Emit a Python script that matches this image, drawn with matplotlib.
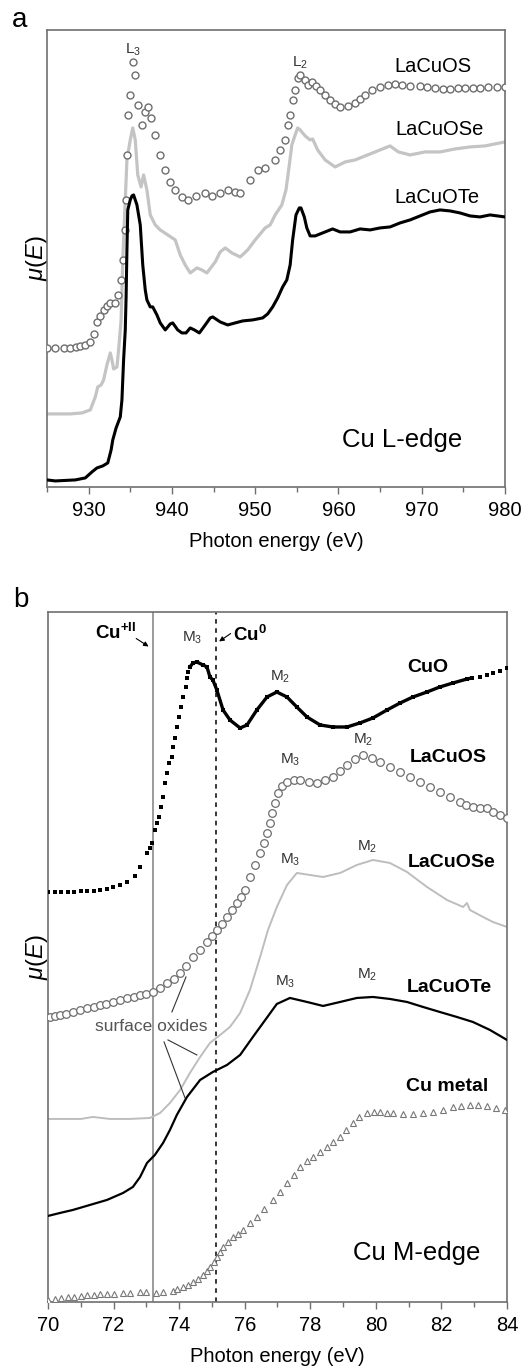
import matplotlib
matplotlib.use('Agg')
import matplotlib.pyplot as plt
import numpy as np

plt.rcParams['font.family'] = ['Liberation Sans', 'DejaVu Sans']
plt.rcParams['mathtext.fontset'] = 'custom'
plt.rcParams['mathtext.rm'] = 'Liberation Sans'
plt.rcParams['mathtext.it'] = 'Liberation Sans:italic'
plt.rcParams['mathtext.bf'] = 'Liberation Sans:bold'

# ---- panel a : Cu L-edge, (photon energy eV, mu(E) arb. units) ----
a_lacuos = [(925.0, 139), (926.0, 139), (927.0, 139), (927.8, 139), (928.5, 140), (929.0, 141),
            (929.6, 142), (930.2, 145), (930.6, 153), (931.0, 165), (931.4, 171), (931.8, 177),
            (932.2, 181), (932.6, 184), (933.2, 184), (933.5, 192), (933.9, 207), (934.1, 227),
            (934.4, 257), (934.5, 287), (934.6, 332), (934.7, 372), (935.0, 392), (935.3, 425),
            (935.6, 412), (935.9, 382), (936.4, 362), (936.8, 375), (937.1, 380), (937.5, 369),
            (938.0, 352), (938.6, 332), (939.2, 317), (939.8, 305), (940.4, 297), (941.2, 290),
            (941.9, 287), (942.9, 291), (944.0, 294), (944.8, 291), (945.8, 294), (946.7, 297),
            (947.6, 295), (948.2, 294), (949.4, 307), (950.3, 317), (951.2, 319), (952.4, 327),
            (953.0, 337), (953.6, 347), (953.9, 362), (954.2, 372), (954.5, 387), (954.8, 397),
            (955.1, 409), (955.4, 412), (956.0, 407), (956.3, 402), (956.8, 405), (957.3, 401),
            (957.8, 397), (958.4, 392), (959.0, 387), (959.6, 383), (960.2, 380), (961.1, 381),
            (962.0, 384), (962.6, 388), (963.2, 392), (964.0, 397), (965.0, 400), (966.0, 402),
            (966.8, 403), (967.6, 402), (968.6, 401), (969.8, 401), (970.6, 400), (971.6, 399),
            (972.5, 398), (973.4, 398), (974.3, 399), (975.2, 399), (976.1, 399), (977.0, 399),
            (978.0, 400), (979.0, 400), (980.0, 400)]

a_lacuose = [(925.0, 73), (927.8, 73), (929.2, 74), (930.2, 77), (930.8, 90), (931.1, 100),
             (931.5, 102), (931.8, 107), (932.2, 122), (932.6, 134), (932.8, 127), (933.0, 118),
             (933.4, 120), (933.6, 137), (933.9, 167), (934.1, 227), (934.4, 287), (934.6, 327),
             (935.0, 347), (935.3, 359), (935.6, 347), (935.9, 312), (936.3, 300), (936.6, 312),
             (937.0, 297), (937.4, 272), (938.0, 262), (938.6, 257), (939.5, 252), (940.4, 247),
             (941.0, 232), (941.6, 222), (942.2, 214), (943.0, 219), (943.6, 217), (944.2, 214),
             (945.2, 225), (945.8, 235), (946.4, 239), (947.2, 234), (948.2, 230), (949.1, 237),
             (950.0, 247), (951.2, 259), (951.8, 262), (952.4, 272), (953.2, 282), (953.7, 297),
             (954.1, 322), (954.4, 342), (954.8, 352), (955.1, 359), (955.4, 357), (956.0, 351),
             (956.6, 347), (956.9, 348), (957.5, 337), (958.4, 327), (959.6, 320), (960.8, 325),
             (962.0, 327), (963.8, 333), (965.6, 339), (966.2, 341), (967.2, 335), (968.6, 332),
             (970.4, 335), (972.2, 335), (974.0, 338), (975.8, 340), (977.6, 341), (978.8, 343),
             (980.0, 345)]

a_lacuote = [(925.0, 7), (926.0, 6), (928.4, 7), (929.6, 9), (930.4, 15), (931.0, 19),
             (931.7, 21), (932.3, 24), (932.7, 37), (932.9, 47), (933.3, 59), (933.8, 70),
             (934.0, 87), (934.2, 127), (934.4, 157), (934.5, 190), (934.6, 237), (934.7, 277),
             (935.0, 287), (935.2, 291), (935.4, 292), (935.8, 282), (936.2, 262), (936.5, 222),
             (936.8, 197), (937.0, 187), (937.4, 180), (937.7, 180), (938.2, 172), (938.6, 164),
             (939.2, 157), (939.8, 163), (940.1, 164), (940.7, 157), (941.2, 154), (941.7, 154),
             (942.2, 159), (942.7, 157), (943.3, 154), (944.0, 162), (944.6, 169), (944.9, 170),
             (945.8, 165), (946.7, 162), (947.6, 164), (948.5, 166), (949.7, 167), (950.9, 169),
             (951.5, 173), (952.1, 180), (952.7, 189), (953.3, 200), (953.8, 207), (954.2, 222),
             (954.5, 247), (954.9, 272), (955.3, 279), (955.5, 279), (955.9, 270), (956.2, 259),
             (956.6, 251), (957.2, 251), (958.4, 255), (959.3, 258), (960.2, 255), (961.4, 255),
             (962.6, 258), (963.8, 257), (965.0, 259), (966.2, 260), (967.4, 264), (968.6, 267),
             (969.8, 271), (971.0, 275), (972.2, 277), (973.4, 276), (974.6, 274), (975.8, 271),
             (977.0, 270), (978.2, 272), (980.0, 270)]

# ---- panel b : Cu M-edge ----
b_cuo = [(70.0, 410), (70.2, 410), (70.4, 410), (70.6, 410), (70.8, 410), (71.0, 411),
         (71.2, 411), (71.4, 411), (71.6, 412), (71.80, 413), (71.98, 415), (72.20, 417),
         (72.41, 420), (72.65, 426), (72.81, 435), (73.02, 449), (73.11, 454), (73.17, 459),
         (73.26, 472), (73.32, 479), (73.39, 485), (73.45, 495), (73.51, 505), (73.57, 519),
         (73.63, 529), (73.69, 539), (73.78, 545), (73.81, 555), (73.87, 564), (73.93, 575),
         (74.00, 585), (74.06, 595), (74.12, 605), (74.21, 615), (74.24, 624), (74.27, 630),
         (74.33, 635), (74.42, 639), (74.54, 640), (74.73, 637), (74.85, 635), (74.94, 625),
         (75.03, 622), (75.15, 612), (75.34, 592), (75.55, 582), (75.86, 574), (76.07, 577),
         (76.37, 592), (76.68, 605), (76.98, 610), (77.29, 605), (77.59, 595), (77.90, 585),
         (78.30, 577), (78.69, 575), (79.12, 575), (79.51, 579), (79.91, 584), (80.34, 592),
         (80.74, 599), (81.13, 605), (81.56, 610), (81.95, 615), (82.35, 619), (82.78, 623),
         (82.93, 624), (83.17, 625), (83.39, 627), (83.57, 629), (83.78, 631), (84.0, 634)]
cuo_dense_range = (74.3, 82.95)

b_lacuos = [(70.06, 285), (70.22, 286), (70.37, 287), (70.56, 288), (70.76, 290), (70.98, 292),
            (71.19, 294), (71.39, 295), (71.59, 297), (71.78, 298), (71.98, 300), (72.2, 302),
            (72.41, 304), (72.61, 305), (72.81, 307), (73.0, 308), (73.20, 310), (73.42, 314),
            (73.63, 319), (73.83, 323), (74.03, 329), (74.22, 336), (74.42, 345), (74.64, 352),
            (74.85, 360), (75.0, 366), (75.15, 372), (75.3, 378), (75.46, 385), (75.6, 392),
            (75.76, 399), (75.9, 405), (76.01, 412), (76.16, 425), (76.3, 437), (76.47, 449),
            (76.58, 459), (76.68, 469), (76.76, 479), (76.83, 489), (76.92, 499), (77.01, 509),
            (77.15, 516), (77.29, 520), (77.49, 522), (77.69, 522), (77.95, 520), (78.20, 519),
            (78.45, 522), (78.69, 525), (78.9, 531), (79.12, 537), (79.37, 543), (79.61, 547),
            (79.87, 544), (80.13, 540), (80.43, 535), (80.73, 530), (81.04, 525), (81.35, 520),
            (81.65, 515), (81.95, 510), (82.26, 505), (82.56, 500), (82.76, 497), (82.96, 495),
            (83.17, 494), (83.39, 494), (83.58, 490), (83.78, 487), (84.0, 484)]

b_lacuose = [(70.0, 183), (70.67, 183), (71.0, 183), (71.37, 185), (71.89, 183), (72.5, 183),
             (73.11, 184), (73.42, 189), (73.72, 199), (74.03, 212), (74.33, 229), (74.64, 245),
             (74.94, 259), (75.25, 267), (75.55, 275), (75.86, 289), (76.16, 312), (76.47, 345),
             (76.71, 372), (76.98, 395), (77.29, 417), (77.59, 429), (77.99, 427), (78.39, 425),
             (78.91, 429), (79.42, 437), (79.91, 442), (80.43, 439), (80.95, 430), (81.56, 415),
             (82.17, 402), (82.66, 395), (82.78, 399), (82.87, 392), (83.27, 385), (83.57, 380),
             (84.0, 375)]

b_lacuote = [(70.0, 86), (70.37, 89), (70.76, 92), (71.28, 97), (71.80, 102), (72.29, 109),
             (72.59, 115), (72.81, 125), (73.02, 139), (73.26, 147), (73.51, 159), (73.72, 172),
             (73.93, 187), (74.24, 205), (74.64, 222), (75.03, 230), (75.46, 237), (75.86, 247),
             (76.25, 265), (76.56, 279), (76.98, 298), (77.38, 304), (77.90, 300), (78.39, 296),
             (78.91, 300), (79.42, 304), (79.91, 305), (80.43, 303), (80.95, 300), (81.44, 295),
             (81.95, 290), (82.47, 285), (82.96, 280), (83.48, 272), (84.0, 262)]

b_cumetal = [(70.0, 2), (70.2, 3), (70.4, 4), (70.6, 5), (70.8, 5), (71.0, 6), (71.2, 7),
             (71.4, 7), (71.6, 8), (71.8, 8), (72.0, 8), (72.3, 9), (72.5, 9), (72.8, 10),
             (73.0, 10), (73.3, 9), (73.5, 10), (73.8, 11), (73.95, 13), (74.12, 15), (74.27, 17),
             (74.42, 20), (74.58, 23), (74.73, 27), (74.84, 31), (74.94, 35), (75.05, 40),
             (75.15, 45), (75.25, 50), (75.34, 55), (75.5, 60), (75.64, 65), (75.8, 68),
             (75.95, 72), (76.15, 79), (76.37, 85), (76.6, 93), (76.86, 102), (77.07, 110),
             (77.29, 119), (77.5, 127), (77.69, 135), (77.9, 141), (78.08, 145), (78.3, 150),
             (78.51, 155), (78.7, 160), (78.91, 165), (79.1, 172), (79.30, 179), (79.5, 185),
             (79.73, 189), (79.93, 190), (80.13, 190), (80.33, 189), (80.52, 189), (80.83, 188),
             (81.13, 188), (81.44, 189), (81.74, 190), (82.05, 192), (82.35, 195), (82.6, 196),
             (82.87, 197), (83.13, 197), (83.39, 196), (83.65, 194), (83.94, 192)]

GRAY_EDGE = '#6e6e6e'
SPINE = '#707070'


def style_axes(ax):
    for s in ax.spines.values():
        s.set_color(SPINE)
        s.set_linewidth(1.2)
    ax.set_yticks([])
    ax.tick_params(axis='x', which='major', direction='out', length=5, width=1,
                   color=SPINE, labelsize=14.5, pad=5)
    ax.tick_params(axis='x', which='minor', direction='out', length=3.5, width=1, color=SPINE)
    ax.set_xlabel('Photon energy (eV)', fontsize=14.5, labelpad=9)
    ax.set_ylabel(r'$\mu(E)$', fontsize=17, va='center')


fig = plt.figure(figsize=(5.25, 13.67), dpi=100)

# ---------------- panel a ----------------
ax1 = fig.add_axes([0.0895, 0.6438, 0.8724, 0.3343])
e, mu = np.array(a_lacuos).T
ax1.plot(e, mu, 'o', ms=5, mfc='white', mec=GRAY_EDGE, mew=1.0, zorder=3)
e, mu = np.array(a_lacuose).T
ax1.plot(e, mu, '-', color='#c4c4c4', lw=2.3, zorder=2)
e, mu = np.array(a_lacuote).T
ax1.plot(e, mu, '-', color='black', lw=2.2, zorder=4)

ax1.set_xlim(925, 980)
ax1.set_ylim(0, 457)
ax1.set_xticks(np.arange(930, 981, 10))
ax1.set_xticks(np.arange(925, 981, 5), minor=True)
style_axes(ax1)
ax1.yaxis.set_label_coords(-0.022, 0.5)

ax1.text(935.3, 437, r'L$_3$', fontsize=11, color='#333333', ha='center', va='center')
ax1.text(955.4, 424, r'L$_2$', fontsize=11, color='#333333', ha='center', va='center')
ax1.text(971.4, 420, 'LaCuOS', fontsize=14.5, ha='center', va='center')
ax1.text(972.2, 357, 'LaCuOSe', fontsize=14.5, ha='center', va='center')
ax1.text(971.8, 289, 'LaCuOTe', fontsize=14.5, ha='center', va='center')
ax1.text(967.6, 47, 'Cu L-edge', fontsize=18.5, ha='center', va='center')

# ---------------- panel b ----------------
ax2 = fig.add_axes([0.0914, 0.0476, 0.8743, 0.5047])

ax2.axvline(73.19, color='#808080', lw=1.1, zorder=1)
ax2.axvline(75.11, color='black', lw=1.1, ls=(0, (3, 3)), zorder=1)

e, mu = np.array(b_cuo).T
ax2.plot(e, mu, 's', ms=2.6, color='black', mew=0, zorder=4)
dense = (e >= cuo_dense_range[0]) & (e <= cuo_dense_range[1])
ax2.plot(e[dense], mu[dense], '-', color='black', lw=2.4, zorder=4)

e, mu = np.array(b_lacuos).T
ax2.plot(e, mu, 'o', ms=5.5, mfc='white', mec=GRAY_EDGE, mew=0.9, zorder=3)
e, mu = np.array(b_lacuose).T
ax2.plot(e, mu, '-', color='#bdbdbd', lw=1.4, zorder=2)
e, mu = np.array(b_lacuote).T
ax2.plot(e, mu, '-', color='black', lw=1.6, zorder=3)
e, mu = np.array(b_cumetal).T
ax2.plot(e, mu, '^', ms=4, mfc='white', mec='#777777', mew=0.8, zorder=3)

ax2.set_xlim(70, 84)
ax2.set_ylim(0, 690)
ax2.set_xticks(np.arange(70, 85, 2))
ax2.set_xticks(np.arange(70, 85, 1), minor=True)
style_axes(ax2)
ax2.yaxis.set_label_coords(-0.024, 0.5)

ax2.text(72.07, 669, r'$\mathbf{Cu^{+II}}$', fontsize=13.5, ha='center', va='center')
ax2.annotate('', xy=(73.14, 654), xytext=(72.62, 665),
             arrowprops=dict(arrowstyle='-|>', color='black', lw=0.8, mutation_scale=7))
ax2.text(76.16, 667, r'$\mathbf{Cu^{0}}$', fontsize=13.5, ha='center', va='center')
ax2.annotate('', xy=(75.15, 659), xytext=(75.64, 670),
             arrowprops=dict(arrowstyle='-|>', color='black', lw=0.8, mutation_scale=7))

m_labels = [(74.39, 664, 3), (77.08, 625, 2), (77.38, 542, 3), (79.61, 562, 2),
            (77.4, 442, 3), (79.73, 455, 2), (77.23, 320, 3), (79.73, 327, 2)]
for x, y, n in m_labels:
    ax2.text(x, y, r'M$_%d$' % n, fontsize=11, color='#333333', ha='center', va='center')

for x, y, s in [(81.59, 634, 'CuO'), (82.20, 544, 'LaCuOS'), (82.32, 439, 'LaCuOSe'),
                (82.23, 314, 'LaCuOTe'), (82.17, 215, 'Cu metal')]:
    ax2.text(x, y, s, fontsize=14, fontweight='bold', ha='center', va='center')

ax2.text(73.14, 275, 'surface oxides', fontsize=12.5, color='#555555', ha='center', va='center')
for (x0, y0), (x1, y1) in [((73.78, 290), (74.21, 325)), ((73.66, 262), (74.54, 247)),
                           ((73.54, 260), (74.18, 204))]:
    ax2.plot([x0, x1], [y0, y1], color='#333333', lw=0.8)

ax2.text(81.25, 49, 'Cu M-edge', fontsize=18.5, ha='center', va='center')

fig.text(0.037, 0.9857, 'a', fontsize=20, ha='center', va='center')
fig.text(0.039, 0.561, 'b', fontsize=20, ha='center', va='center')

fig.savefig('out.png', dpi=100)
